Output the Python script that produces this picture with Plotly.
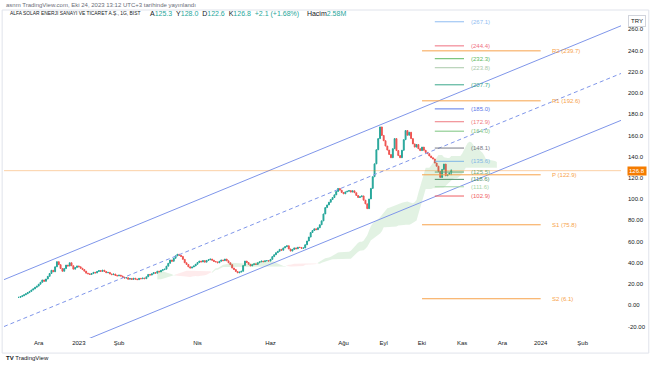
import numpy as np
import pandas as pd
import plotly.graph_objects as go

# ---------------- data ----------------
closes = [
    7.4, 8.1, 8.9, 9.8, 10.8, 11.9, 13.0, 14.3, 15.4, 16.9, 18.0,
    19.8,
    21.6, 23.8, 22.5, 24.7, 27.2, 29.9, 32.9, 31.5, 36.2, 41.0,
    38.2, 34.6, 32.0,
    34.5, 37.8, 36.9, 40.0,
    37.2, 34.0, 35.6, 37.0, 36.2,
    34.8, 33.6, 32.1, 30.2, 29.6, 29.0,
    29.8, 31.0, 30.4, 31.8, 32.6, 31.9, 33.0,
    31.8, 30.6, 30.9, 29.5,
    28.8, 29.4, 28.1, 27.6, 28.3, 27.5,
    26.4, 25.6, 25.9, 24.5,
    25.2, 24.3, 25.4, 24.6, 24.1, 25.3, 24.9, 25.6, 25.0,
    26.8, 29.0, 28.4, 29.6, 30.8, 30.2, 32.0,
    31.4, 32.8, 33.5, 34.0,
    36.8, 39.5, 42.6, 41.4, 44.2, 46.5, 48.0,
    47.0, 46.0, 43.2, 40.0, 38.4, 36.2, 35.0,
    36.0, 37.0, 38.6, 40.2, 41.6,
    40.8, 42.0, 40.6, 42.2, 42.8, 43.5,
    42.4, 41.2, 40.8, 40.0,
    41.4, 42.6, 42.0, 43.5,
    41.8, 40.0, 38.2, 35.0, 33.6, 31.8, 30.5,
    31.2, 32.0, 37.4, 41.6,
    40.2, 38.6, 37.0,
    38.2, 39.0, 38.4, 40.0, 40.8, 41.6,
    41.0, 41.8, 42.0, 41.6,
    43.2, 45.8, 47.6, 49.5,
    50.8, 52.6, 51.8, 54.0, 55.2, 56.0,
    53.0, 51.0, 52.6, 54.0,
    53.2, 54.6, 54.4, 53.6, 54.0,
    57.0, 60.5, 64.2, 68.5, 70.4, 72.0,
    71.2, 73.0, 75.8, 79.5,
    86.0, 92.0, 94.5, 97.0, 99.6, 101.5,
    104.0, 107.2, 110.0, 108.4,
    106.2, 105.0, 106.8, 107.4, 108.0,
    106.6, 107.8, 106.0, 103.4, 101.5, 102.2, 103.0,
    99.0, 95.5, 91.0,
    100.1, 110.1, 121.1, 133.2, 146.5, 157.0, 168.0, 160.0,
    155.0, 150.0, 146.2, 142.0, 139.0,
    147.5, 157.0, 145.7,
    141.0, 139.0,
    146.0, 156.0, 164.6,
    160.2, 163.0, 157.0, 152.0,
    149.0, 151.4, 147.5,
    145.7, 149.0, 146.0,
    144.0, 142.8, 140.6, 139.0, 137.8,
    134.0, 131.0, 126.0, 120.4,
    128.0, 133.0,
    122.0, 123.2, 124.7,
    126.8,
]
last_date = "2023-10-24"
last_ohlc = [125.3, 128.0, 122.6, 126.8]   # A, Y, D, K from header

market_holidays = ["2023-04-21", "2023-05-01", "2023-05-19", "2023-06-28",
                   "2023-06-29", "2023-06-30", "2023-08-30"]

x_tick_dates = ["2022-12-01", "2023-01-02", "2023-02-01", "2023-04-03", "2023-06-01",
                "2023-08-01", "2023-09-01", "2023-10-02", "2023-11-01", "2023-12-01",
                "2024-01-01", "2024-02-01"]
x_tick_labels = ["Ara", "2023", "Şub", "Nis", "Haz", "Ağu", "Eyl", "Eki", "Kas", "Ara", "2024", "Şub"]

y_tick_vals = [-20, 0, 20, 40, 60, 80, 100, 120, 140, 160, 180, 200, 220, 240, 260]
y_tick_labels = ["-20.00", "0.00", "20.00", "40.00", "60.00", "80.00", "100.0", "120.0",
                 "140.0", "160.0", "180.0", "200.0", "220.0", "240.0", "260.0"]

# regression-channel anchors
channel_dates = ["2022-11-04", "2024-03-01"]
channel_upper = [24.1, 263.3]
channel_mid = [-20.1, 218.4]
channel_lower = [-64.3, 174.2]

# quarterly pivot points
pivot_names = ["R2", "R1", "P", "S1", "S2"]
pivot_values = [239.7, 192.6, 122.9, 75.8, 6.1]
pivot_span = ["2023-10-02", "2024-01-01"]

# level set
level_values = [267.1, 244.4, 232.3, 223.8, 207.7, 185.0, 172.9, 164.0,
                148.1, 135.6, 125.5, 118.6, 111.6, 102.9]
level_colors = ["#90bdf2", "#ef6f7f", "#5cb860", "#a9c9a9", "#3aa78a", "#5a78e8", "#ef7a80", "#7cc47f",
                "#787b86", "#7fb6e6", "#6aa874", "#4e8f6a", "#a5d6a7", "#ef5d63"]
level_span = ["2023-10-11", "2023-11-02"]

# ---------------- derived candles ----------------
N = len(closes)
dates = pd.bdate_range(end=last_date, periods=N, freq="C", holidays=market_holidays)
opens = [closes[0]] + closes[:-1]
highs = [max(o, c) for o, c in zip(opens, closes)]
lows = [min(o, c) for o, c in zip(opens, closes)]
opens[-1], highs[-1], lows[-1], closes_last = last_ohlc
closes = closes[:-1] + [closes_last]

# Ichimoku cloud (computed from the candles)
h = pd.Series(highs)
l = pd.Series(lows)
tenkan = (h.rolling(9).max() + l.rolling(9).min()) / 2
kijun = (h.rolling(26).max() + l.rolling(26).min()) / 2
span_a = ((tenkan + kijun) / 2).to_numpy()
span_b = ((h.rolling(52).max() + l.rolling(52).min()) / 2).to_numpy()
disp = 25
future = pd.bdate_range(start=dates[-1] + pd.offsets.BDay(1), periods=disp)
ext_dates = dates.append(future)
a = np.concatenate([np.full(disp, np.nan), span_a])
b = np.concatenate([np.full(disp, np.nan), span_b])

fig = go.Figure()

valid = ~np.isnan(a) & ~np.isnan(b)
n = len(a)
i = 0
while i < n:
    if not valid[i]:
        i += 1
        continue
    up = a[i] >= b[i]
    j = i
    while j + 1 < n and valid[j + 1] and (a[j + 1] >= b[j + 1]) == up:
        j += 1
    end = min(j + 1, n - 1)
    xs = ext_dates[i:end + 1]
    fig.add_trace(go.Scatter(x=xs, y=b[i:end + 1], mode="lines", line=dict(width=0),
                             hoverinfo="skip", showlegend=False))
    fig.add_trace(go.Scatter(x=xs, y=a[i:end + 1], mode="lines", line=dict(width=0),
                             fill="tonexty",
                             fillcolor="rgba(76,175,80,0.16)" if up else "rgba(242,54,69,0.10)",
                             hoverinfo="skip", showlegend=False))
    i = j + 1

# channel
chan_color = "#7f96ea"
fig.add_trace(go.Scatter(x=channel_dates, y=channel_upper, mode="lines",
                         line=dict(color=chan_color, width=1), showlegend=False))
fig.add_trace(go.Scatter(x=channel_dates, y=channel_mid, mode="lines",
                         line=dict(color=chan_color, width=1, dash="4px,3px"), showlegend=False))
fig.add_trace(go.Scatter(x=channel_dates, y=channel_lower, mode="lines",
                         line=dict(color=chan_color, width=1), showlegend=False))

# candles
fig.add_trace(go.Candlestick(
    x=dates, open=opens, high=highs, low=lows, close=closes,
    increasing=dict(line=dict(color="#26a69a", width=1), fillcolor="#26a69a"),
    decreasing=dict(line=dict(color="#ef5350", width=1), fillcolor="#ef5350"),
    whiskerwidth=0, showlegend=False))

# last price line
fig.add_shape(type="line", xref="paper", x0=0, x1=1, yref="y",
              y0=last_ohlc[3], y1=last_ohlc[3],
              line=dict(color="rgba(245,124,0,0.35)", width=1))

# pivot lines
piv_color = "#f7a34b"
for name, val in zip(pivot_names, pivot_values):
    fig.add_shape(type="line", xref="x", yref="y", x0=pivot_span[0], x1=pivot_span[1],
                  y0=val, y1=val, line=dict(color=piv_color, width=1))
    fig.add_annotation(x=pivot_span[1], y=val, xref="x", yref="y", text=f"{name} ({val})",
                       showarrow=False, xanchor="left", xshift=9,
                       font=dict(size=6, color=piv_color))

# level lines
for val, col in zip(level_values, level_colors):
    fig.add_shape(type="line", xref="x", yref="y", x0=level_span[0], x1=level_span[1],
                  y0=val, y1=val, line=dict(color=col, width=1))
    fig.add_annotation(x=level_span[1], y=val, xref="x", yref="y", text=f"({val})",
                       showarrow=False, xanchor="left", xshift=5,
                       font=dict(size=6, color=col))

# price tag on axis
fig.add_annotation(x=1, xref="paper", y=last_ohlc[3], yref="y", text=f"{last_ohlc[3]}",
                   showarrow=False, xanchor="left", xshift=6,
                   bgcolor="#f57c00", font=dict(size=6, color="white"), borderpad=1)
# currency box
fig.add_annotation(x=1, xref="paper", y=0.985, yref="paper", text="TRY",
                   showarrow=False, xanchor="left", xshift=7,
                   bgcolor="white", bordercolor="#d1d4dc", borderwidth=1, borderpad=2,
                   font=dict(size=6, color="#131722"))

# header texts
fig.add_annotation(x=0.0, xref="paper", y=1.016, yref="paper",
                   text="asnm TradingView.com, Eki 24, 2023 13:12 UTC+3 tarihinde yayınlandı",
                   showarrow=False, xanchor="left", yanchor="middle",
                   font=dict(size=6, color="#6a6d78"))
fig.add_annotation(x=0.006, xref="paper", y=0.988, yref="paper",
                   text="ALFA SOLAR ENERJI SANAYI VE TICARET A.Ş., 1G, BIST",
                   showarrow=False, xanchor="left", yanchor="middle",
                   font=dict(size=4.9, color="#131722"))
g = "#26a69a"
sp = "&nbsp;&nbsp;"
hdr = (f"A<span style='color:{g}'>125.3</span>{sp}Y<span style='color:{g}'>128.0</span>{sp}"
       f"D<span style='color:{g}'>122.6</span>{sp}K<span style='color:{g}'>126.8</span>{sp}"
       f"<span style='color:{g}'>+2.1 (+1.68%)</span>{sp}{sp}Hacim<span style='color:{g}'>2.58M</span>")
fig.add_annotation(x=0.233, xref="paper", y=0.988, yref="paper", text=hdr,
                   showarrow=False, xanchor="left", yanchor="middle",
                   font=dict(size=7, color="#131722"))
fig.add_annotation(x=0.0, xref="paper", y=-0.061, yref="paper",
                   text="<b>TV</b> TradingView", showarrow=False, xanchor="left", yanchor="middle",
                   font=dict(size=6, color="#131722"))

# outer frame
fig.add_shape(type="rect", xref="paper", yref="paper", x0=-0.003, x1=1.045, y0=-0.046, y1=1.0,
              line=dict(color="#e0e3eb", width=1), fillcolor="rgba(0,0,0,0)", layer="below")

fig.update_layout(
    width=654, height=366,
    margin=dict(l=4, r=33, t=10, b=28),
    paper_bgcolor="white", plot_bgcolor="white",
    showlegend=False,
    font=dict(family="Liberation Sans, Arial, sans-serif", size=6, color="#131722"),
    xaxis=dict(type="date", range=["2022-11-04", "2024-03-01"],
               rangebreaks=[dict(bounds=["sat", "mon"]), dict(values=market_holidays)],
               rangeslider=dict(visible=False),
               tickvals=x_tick_dates, ticktext=x_tick_labels,
               showgrid=False, zeroline=False, showline=False, ticks="",
               tickfont=dict(size=6, color="#131722")),
    yaxis=dict(range=[-30.9, 278.2], side="right",
               tickvals=y_tick_vals, ticktext=y_tick_labels,
               showgrid=False, zeroline=False, showline=False, ticks="",
               ticklabelstandoff=6,
               tickfont=dict(size=6, color="#131722")),
)

fig.write_html("out.html", config={"displayModeBar": False},
               post_script="document.body.style.margin='0';document.body.style.overflow='hidden';")
